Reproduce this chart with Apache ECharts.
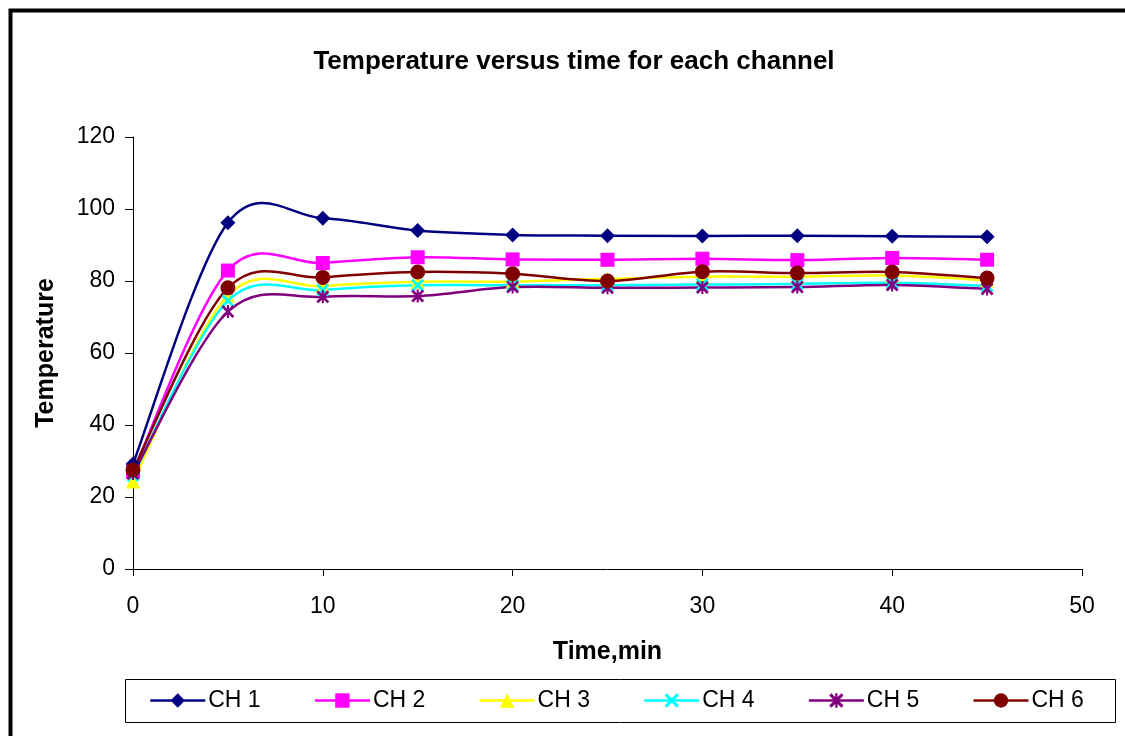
<!DOCTYPE html>
<html>
<head>
<meta charset="utf-8">
<script src="https://cdn.jsdelivr.net/npm/echarts@6/dist/echarts.min.js"></script>
<style>
  html, body { margin: 0; padding: 0; background: #fff; }
  #chart { width: 1125px; height: 736px; }
</style>
</head>
<body>
<div id="chart"></div>
<script>
// time, min
const times = [0, 5, 10, 15, 20, 25, 30, 35, 40, 45]
const ch1 = [29.2, 96.2, 97.4, 94.0, 92.8, 92.6, 92.5, 92.6, 92.4, 92.3]
const ch2 = [27.0, 82.9, 85.0, 86.6, 86.0, 85.9, 86.2, 85.8, 86.4, 85.9]
const ch3 = [24.3, 76.0, 78.6, 79.8, 79.8, 80.6, 81.2, 81.2, 81.5, 80.2]
const ch4 = [26.0, 74.5, 77.5, 78.8, 78.8, 78.8, 79.0, 79.2, 79.5, 78.6]
const ch5 = [26.5, 71.5, 75.6, 75.8, 78.3, 78.1, 78.2, 78.3, 78.9, 77.8]
const ch6 = [27.5, 78.1, 81.0, 82.5, 82.0, 80.0, 82.6, 82.2, 82.5, 80.8]
const names = ['CH 1', 'CH 2', 'CH 3', 'CH 4', 'CH 5', 'CH 6']
const colors = ['#000080', '#FF00FF', '#FFFF00', '#00FFFF', '#800080', '#800000']

const xMark = 'path://M0,1.5 L1.5,0 L5,3.5 L8.5,0 L10,1.5 L6.5,5 L10,8.5 L8.5,10 L5,6.5 L1.5,10 L0,8.5 L3.5,5 Z'
const starMark = 'path://M0,1.5 L1.5,0 L5,3.5 L8.5,0 L10,1.5 L6.5,5 L10,8.5 L8.5,10 L5,6.5 L1.5,10 L0,8.5 L3.5,5 Z M4.2,0 L5.8,0 L5.8,10 L4.2,10 Z'
const symbols = ['diamond', 'rect', 'triangle', xMark, starMark, 'circle']
const sizes = [15, 14, 14, 13, 13, 15]

const font = 'Liberation Sans, Arial, sans-serif'
const chart = echarts.init(document.getElementById('chart'))

// excel-like smoothed line: catmull-rom segments (can overshoot, unlike echarts smooth)
function curveSeries (vals, i) {
  return {
    name: names[i] + ' curve',
    type: 'custom',
    data: vals.map((v, k) => [times[k], v]),
    encode: { x: 0, y: 1 },
    silent: true,
    renderItem: function (params, api) {
      const k = params.dataIndex
      const n = vals.length
      if (k >= n - 1) return null
      const pt = j => api.coord([times[j], vals[j]])
      const p0 = pt(Math.max(k - 1, 0))
      const p1 = pt(k)
      const p2 = pt(k + 1)
      const p3 = pt(Math.min(k + 2, n - 1))
      return {
        type: 'bezierCurve',
        shape: {
          x1: p1[0], y1: p1[1],
          x2: p2[0], y2: p2[1],
          cpx1: p1[0] + (p2[0] - p0[0]) / 6, cpy1: p1[1] + (p2[1] - p0[1]) / 6,
          cpx2: p2[0] - (p3[0] - p1[0]) / 6, cpy2: p2[1] - (p3[1] - p1[1]) / 6
        },
        style: { stroke: colors[i], lineWidth: 2.5, fill: null }
      }
    }
  }
}

function markerSeries (vals, i) {
  return {
    name: names[i],
    type: 'line',
    data: vals.map((v, k) => [times[k], v]),
    symbol: symbols[i],
    symbolSize: sizes[i],
    showAllSymbol: true,
    lineStyle: { width: 0, opacity: 0 },
    itemStyle: { color: colors[i], opacity: 1 },
    emphasis: { disabled: true }
  }
}

const allData = [ch1, ch2, ch3, ch4, ch5, ch6]
const series = []
allData.forEach((vals, i) => {
  series.push(curveSeries(vals, i))
  series.push(markerSeries(vals, i))
})

chart.setOption({
  backgroundColor: '#fff',
  animation: false,
  title: {
    text: 'Temperature versus time for each channel',
    left: 569,
    top: 44,
    textAlign: 'center',
    textStyle: { fontFamily: font, fontSize: 26, fontWeight: 'bold', color: '#000' }
  },
  graphic: [
    { type: 'rect', left: 8, top: 8, shape: { width: 1200, height: 800 }, style: { fill: 'none', stroke: '#000', lineWidth: 4 } },
    { type: 'rect', left: 123, top: 677, shape: { width: 990, height: 43 }, style: { fill: 'none', stroke: '#000', lineWidth: 1 } }
  ],
  legend: {
    left: 144,
    top: 684,
    itemWidth: 55,
    itemHeight: 18,
    itemGap: 53,
    textStyle: { fontFamily: font, fontSize: 23, color: '#000', padding: [0, 0, 0, -2] },
    data: names.map((nm, i) => ({
      name: nm,
      lineStyle: { color: colors[i], width: 2.5, opacity: 1 }
    }))
  },
  grid: { left: 133, right: 43, top: 137, bottom: 167, containLabel: false },
  xAxis: {
    type: 'value',
    min: 0, max: 50, interval: 10,
    name: 'Time,min',
    nameLocation: 'middle',
    nameGap: 71,
    nameTextStyle: { fontFamily: font, fontSize: 25, fontWeight: 'bold', color: '#000' },
    axisLine: { lineStyle: { color: '#000', width: 1 } },
    axisTick: { show: true, length: 7, lineStyle: { color: '#000' } },
    axisLabel: { fontFamily: font, fontSize: 23, color: '#000', margin: 26 },
    splitLine: { show: false }
  },
  yAxis: {
    type: 'value',
    min: 0, max: 120, interval: 20,
    name: 'Temperature',
    nameLocation: 'middle',
    nameGap: 74,
    nameRotate: 90,
    nameTextStyle: { fontFamily: font, fontSize: 25, fontWeight: 'bold', color: '#000' },
    axisLine: { show: true, lineStyle: { color: '#000', width: 1 } },
    axisTick: { show: true, length: 8, lineStyle: { color: '#000' } },
    axisLabel: { fontFamily: font, fontSize: 23, color: '#000', margin: 18 },
    splitLine: { show: false }
  },
  series: series
})
</script>
</body>
</html>
